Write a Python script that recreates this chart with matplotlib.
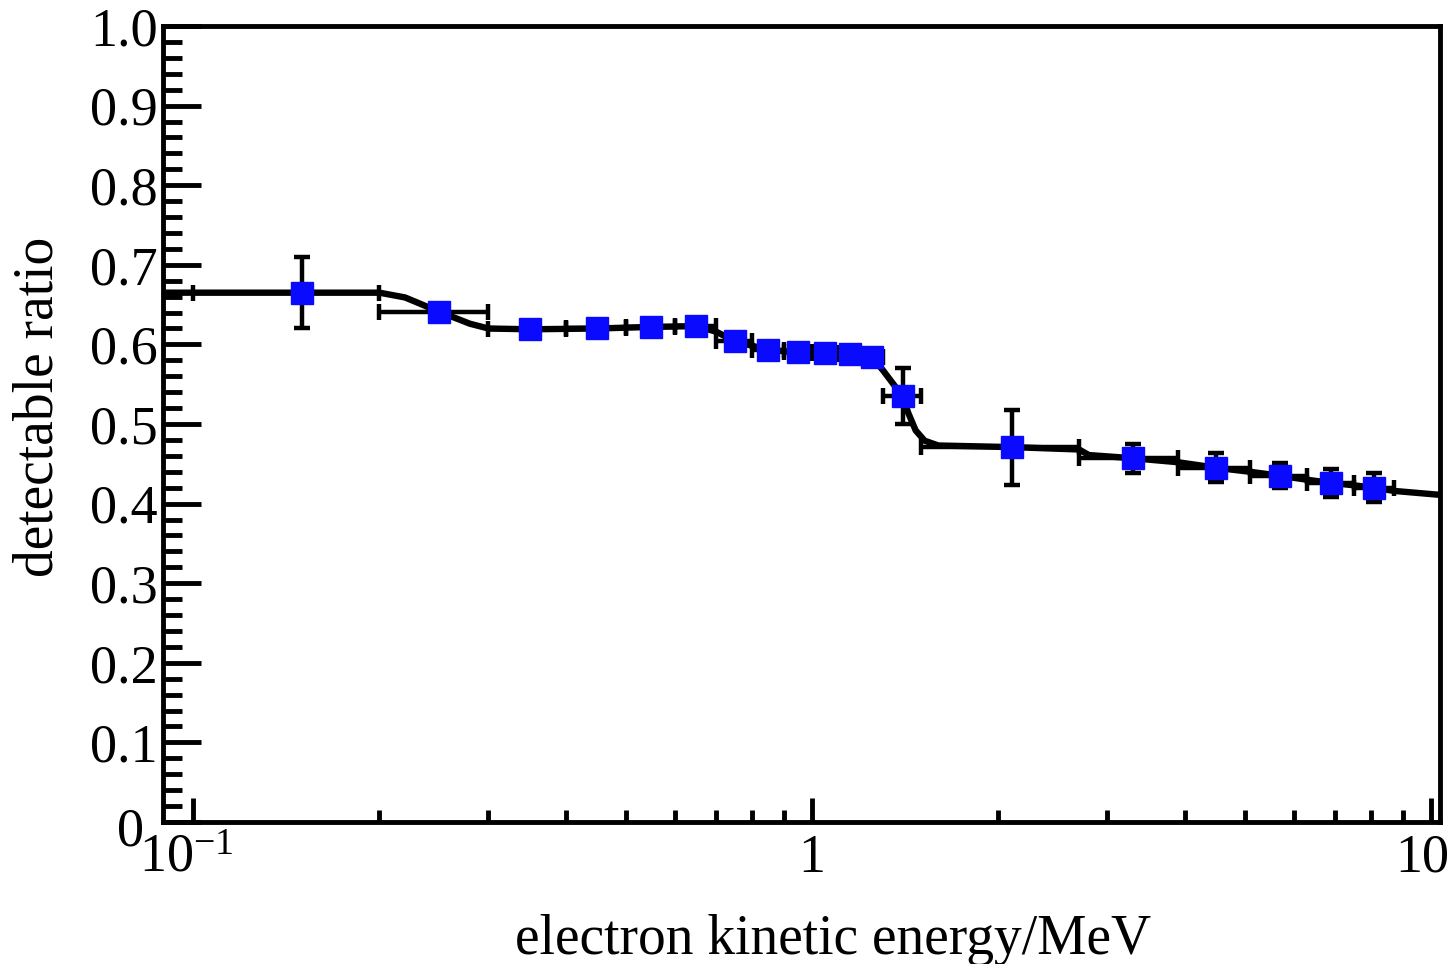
import numpy as np
import matplotlib
matplotlib.use('Agg')
import matplotlib.pyplot as plt
import matplotlib.transforms as mtransforms
from matplotlib.ticker import FixedLocator, FixedFormatter, MultipleLocator

plt.rcParams['font.family'] = ['Liberation Serif', 'DejaVu Serif']
plt.rcParams['mathtext.fontset'] = 'custom'
plt.rcParams['mathtext.rm'] = 'Liberation Serif'
plt.rcParams['mathtext.it'] = 'Liberation Serif:italic'

# 측정점 (파란 사각형)
energy = [0.15, 0.25, 0.35, 0.45, 0.55, 0.65, 0.75, 0.85, 0.95, 1.05, 1.15, 1.25,
          1.4, 2.1, 3.3, 4.5, 5.7, 6.9, 8.1]
ratio = [0.665, 0.641, 0.619, 0.620, 0.622, 0.623, 0.604, 0.593, 0.590, 0.589, 0.588, 0.584,
         0.535, 0.471, 0.457, 0.445, 0.435, 0.426, 0.420]
energy_err = [0.05] * 12 + [0.1] + [0.6] * 6
ratio_err = [0.045, 0.008, 0.005, 0.005, 0.005, 0.005, 0.005, 0.005, 0.005, 0.005, 0.005, 0.005,
             0.035, 0.047, 0.018, 0.018, 0.016, 0.018, 0.018]

# 검은 곡선
curve_x = [0.0894, 0.2, 0.22, 0.25, 0.28, 0.3, 0.35, 0.45, 0.55, 0.65, 0.7, 0.75, 0.85, 0.95,
           1.05, 1.15, 1.25, 1.3, 1.4, 1.43, 1.47, 1.52, 1.6, 2.1, 2.7, 2.8, 3.3, 3.9, 4.5,
           5.1, 5.7, 6.3, 6.9, 7.5, 8.1, 8.7, 10.34]
curve_y = [0.665, 0.665, 0.659, 0.641, 0.626, 0.620, 0.619, 0.620, 0.622, 0.623, 0.616, 0.604,
           0.593, 0.590, 0.589, 0.588, 0.584, 0.568, 0.535, 0.514, 0.492, 0.479, 0.473, 0.471,
           0.468, 0.461, 0.457, 0.452, 0.445, 0.440, 0.435, 0.430, 0.426, 0.423, 0.420, 0.416,
           0.411]

# 눈금
x_ticks = [0.1, 1, 10]
x_labels = [r'$10^{-1}$', '1', '10']
y_ticks = [0, 0.1, 0.2, 0.3, 0.4, 0.5, 0.6, 0.7, 0.8, 0.9, 1.0]
y_labels = ['0', '0.1', '0.2', '0.3', '0.4', '0.5', '0.6', '0.7', '0.8', '0.9', '1.0']

fig = plt.figure(figsize=(14.54, 9.64), dpi=100)
ax = fig.add_axes([0.1121, 0.1473, 0.8783, 0.8257])

ax.plot(curve_x, curve_y, color='black', lw=4.6, zorder=2, solid_joinstyle='round')
ax.errorbar(energy, ratio, xerr=energy_err, yerr=ratio_err, fmt='none', ecolor='black',
            elinewidth=3.2, capsize=6, capthick=3.2, zorder=3)
ax.plot(energy, ratio, 's', color='#0a0aff', ms=15.5, mec='#0a0aff', zorder=4)

ax.set_xscale('log')
ax.set_xlim(0.0894, 10.34)
ax.set_ylim(0, 1.0)

ax.xaxis.set_major_locator(FixedLocator(x_ticks))
ax.xaxis.set_major_formatter(FixedFormatter(x_labels))
ax.xaxis.set_minor_locator(FixedLocator([m * d for d in (0.1, 1) for m in range(2, 10)]))
ax.xaxis.set_minor_formatter(FixedFormatter([]))
ax.yaxis.set_major_locator(FixedLocator(y_ticks))
ax.yaxis.set_major_formatter(FixedFormatter(y_labels))
ax.yaxis.set_minor_locator(MultipleLocator(0.02))

ax.tick_params(axis='both', which='both', direction='in', width=3.5, labelsize=39,
               top=False, right=False)
ax.tick_params(axis='x', which='major', length=17, pad=8)
ax.tick_params(axis='x', which='minor', length=9)
ax.tick_params(axis='y', which='major', length=27, pad=4)
ax.tick_params(axis='y', which='minor', length=14)

for s in ax.spines.values():
    s.set_linewidth(3.5)

ax.set_xlabel('electron kinetic energy/MeV', fontsize=40)
ax.set_ylabel('detectable ratio', fontsize=40)
ax.xaxis.set_label_coords(0.525, -0.116)
ax.yaxis.set_label_coords(-0.077, 0.521)

# 라벨 위치 미세 조정 (px)
fig.canvas.draw()
def shift(lab, dx, dy):
    lab.set_transform(lab.get_transform() +
                      mtransforms.ScaledTranslation(dx / 100, dy / 100, fig.dpi_scale_trans))
xt = ax.xaxis.get_major_ticks()
shift(xt[0].label1, -7, 0)
shift(xt[2].label1, -9, 0)
yt = ax.yaxis.get_major_ticks()
shift(yt[0].label1, -13, -4)

fig.savefig('out.png', dpi=100)
